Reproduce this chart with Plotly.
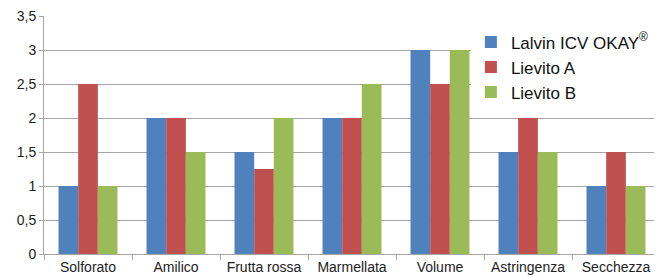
import plotly.graph_objects as go

categories = ["Solforato", "Amilico", "Frutta rossa", "Marmellata", "Volume", "Astringenza", "Secchezza"]
lalvin = [1, 2, 1.5, 2, 3, 1.5, 1]
lievito_a = [2.5, 2, 1.25, 2, 2.5, 2, 1.5]
lievito_b = [1, 1.5, 2, 2.5, 3, 1.5, 1]
series_names = ["Lalvin ICV OKAY<sup>®</sup>", "Lievito A", "Lievito B"]
colors = ["#4F81BD", "#C0504D", "#9BBB59"]
y_tickvals = [0, 0.5, 1, 1.5, 2, 2.5, 3, 3.5]
y_ticktext = ["0", "0,5", "1", "1,5", "2", "2,5", "3", "3,5"]

fig = go.Figure()
for name, vals, c in zip(series_names, [lalvin, lievito_a, lievito_b], colors):
    fig.add_trace(go.Bar(x=categories, y=vals, name=name, marker=dict(color=c, line=dict(width=0))))

# page body has an 8px default margin, so the figure is sized to fit the 662x275 window
fig.update_layout(
    width=654, height=267,
    margin=dict(l=36, r=2, t=8, b=21, autoexpand=False),
    paper_bgcolor="white", plot_bgcolor="white",
    barmode="group", bargap=0.33, bargroupgap=0,
    font=dict(family="Liberation Sans, Arial, sans-serif", color="#222"),
    legend=dict(x=0.693, y=0.965, xanchor="left", yanchor="top",
                bgcolor="white", font=dict(size=17, color="#111"),
                tracegroupgap=0, itemsizing="constant"),
    showlegend=True,
)
fig.update_xaxes(
    showline=True, linecolor="#A6A6A6", linewidth=1,
    ticks="outside", tickson="boundaries", ticklen=5, tickcolor="#A6A6A6",
    tickangle=0, automargin=False, ticklabeloverflow="allow",
    tickfont=dict(family="Liberation Sans Narrow, Arial Narrow, sans-serif", size=14, color="#222"),
    showgrid=False,
)
fig.update_yaxes(
    range=[0, 3.5], tickvals=y_tickvals, ticktext=y_ticktext, automargin=False,
    ticklabeloverflow="allow",
    showline=True, linecolor="#A6A6A6", linewidth=1,
    ticks="outside", ticklen=4, tickcolor="#A6A6A6",
    showgrid=True, gridcolor="#A6A6A6", gridwidth=1,
    tickfont=dict(size=14, color="#222"),
    zeroline=False,
)
fig.write_html("out.html")
